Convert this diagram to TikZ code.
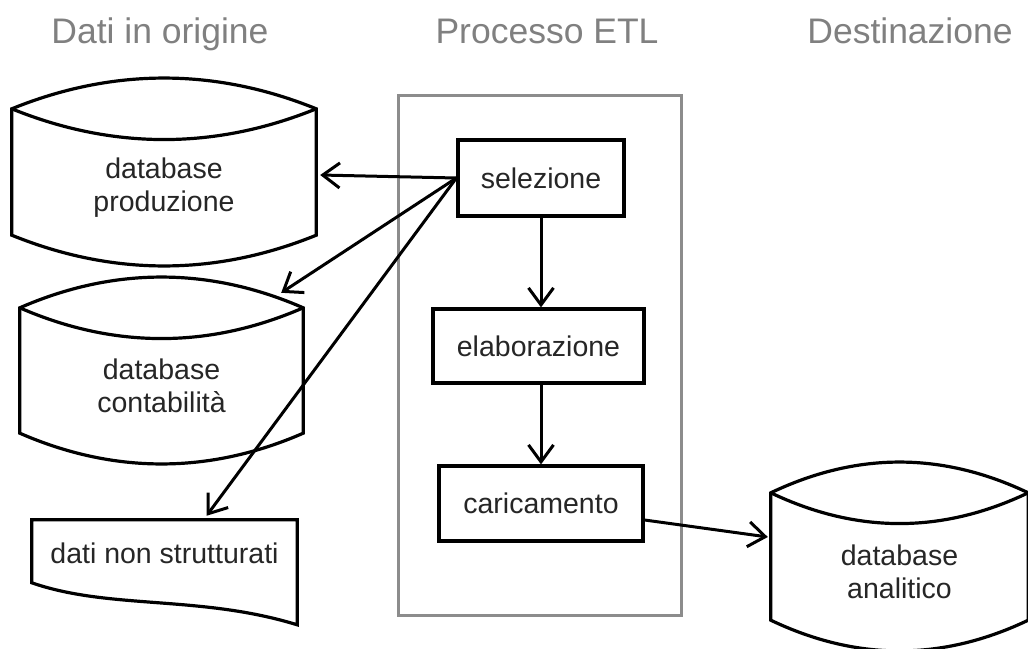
\documentclass[tikz,border=0pt]{standalone}
\usepackage{fontspec}
\setmainfont{Liberation Sans}
\usetikzlibrary{arrows.meta,calc}

\definecolor{titlegray}{HTML}{808080}
\definecolor{framegray}{HTML}{8C8C8C}
\definecolor{inkgray}{HTML}{262626}

\tikzset{
  heading/.style={anchor=base, text=titlegray, font=\fontsize{35.5}{40}\selectfont},
  shapeline/.style={draw=black, line width=3.2pt, line join=miter},
  label text/.style={text=inkgray, align=center, font=\fontsize{28.5}{33}\selectfont, inner sep=0pt},
  storage/.style={label text},
  stepbox/.style={label text, shapeline, fill=white},
  etlframe/.style={draw=framegray, line width=3pt},
  flow/.style={line width=3pt, -{Straight Barb[length=17pt,width=25pt,line width=3pt]}},
}

% drum outline around a storage node: the node spans from the lower edge of
% the lid down to the bottom corners; the lid rises 31 units above it
\newcommand\drumoutline[2]{% #1 node name, #2 one third of the width
  \coordinate (#1-lidw) at ($(#1.north west)+(0,-31)$);
  \coordinate (#1-lide) at ($(#1.north east)+(0,-31)$);
  % outer outline: lid top, right side, bottom curve, left side
  \draw[shapeline] (#1-lidw)
      .. controls ($(#1-lidw)+(#2,-41)$) and ($(#1-lide)+(-#2,-41)$) .. (#1-lide)
      -- (#1.south east)
      .. controls ($(#1.south east)+(-#2,41)$) and ($(#1.south west)+(#2,41)$) .. (#1.south west)
      -- cycle;
  % lower edge of the lid
  \draw[shapeline] (#1-lidw)
      .. controls ($(#1-lidw)+(#2,41)$) and ($(#1-lide)+(-#2,41)$) .. (#1-lide);
}

\begin{document}
\begin{tikzpicture}[x=1pt,y=-1pt]
  \clip (0,0) rectangle (1028,648);
  \fill[white] (0,0) rectangle (1028,648);

  % column headings
  \node[heading] (hsrc) at (160,43) {Dati in origine};
  \node[heading] (hetl) at (547,43) {Processo ETL};
  \node[heading] (hdst) at (910,43) {Destinazione};

  % ETL process frame and its steps
  \node[etlframe, minimum width=283pt, minimum height=520pt] (etl) at (539.5,355) {};
  \node[stepbox, minimum width=166pt, minimum height=76pt] (sel) at (541,178) {selezione};
  \node[stepbox, minimum width=211pt, minimum height=74pt] (ela) at (538.5,346) {elaborazione};
  \node[stepbox, minimum width=204pt, minimum height=75pt] (car) at (541,503.5) {caricamento};

  % source databases
  \node[storage, minimum width=304pt, minimum height=95pt] (prod) at (164,187.5) {database\\produzione};
  \drumoutline{prod}{101}
  \node[storage, minimum width=283pt, minimum height=94pt] (cont) at (161.5,386) {database\\contabilità};
  \drumoutline{cont}{94}

  % unstructured data (document shape)
  \node[storage, minimum width=265pt, minimum height=66pt] (dati) at (164.5,553) {dati non strutturati};
  \draw[shapeline] (dati.north west) -- (dati.north east)
    -- ($(dati.north east)+(0,105)$)
    .. controls ($(dati.north west)+(168,75)$) and ($(dati.north west)+(78,90)$) .. ($(dati.north west)+(0,63)$)
    -- cycle;

  % target database
  \node[storage, minimum width=257pt, minimum height=96pt] (anal) at (899.5,572) {database\\analitico};
  \drumoutline{anal}{86}

  % extraction from the sources
  \draw[flow] (sel.west) -- ([xshift=4pt,yshift=12.5pt]prod.east);
  \draw[flow] (sel.west) -- ([shift={(-22pt,46pt)}]cont.north east);
  \draw[flow] (sel.west) -- ([shift={(42pt,4pt)}]dati.north);

  % process chain
  \draw[flow] (sel.south) -- (sel.south |- ela.north);
  \draw[flow] (sel.south |- ela.south) -- (sel.south |- car.north);

  % loading into the target
  \draw[flow] ([yshift=-16.5pt]car.east) -- ([shift={(-3pt,35pt)}]anal.west);
\end{tikzpicture}
\end{document}
